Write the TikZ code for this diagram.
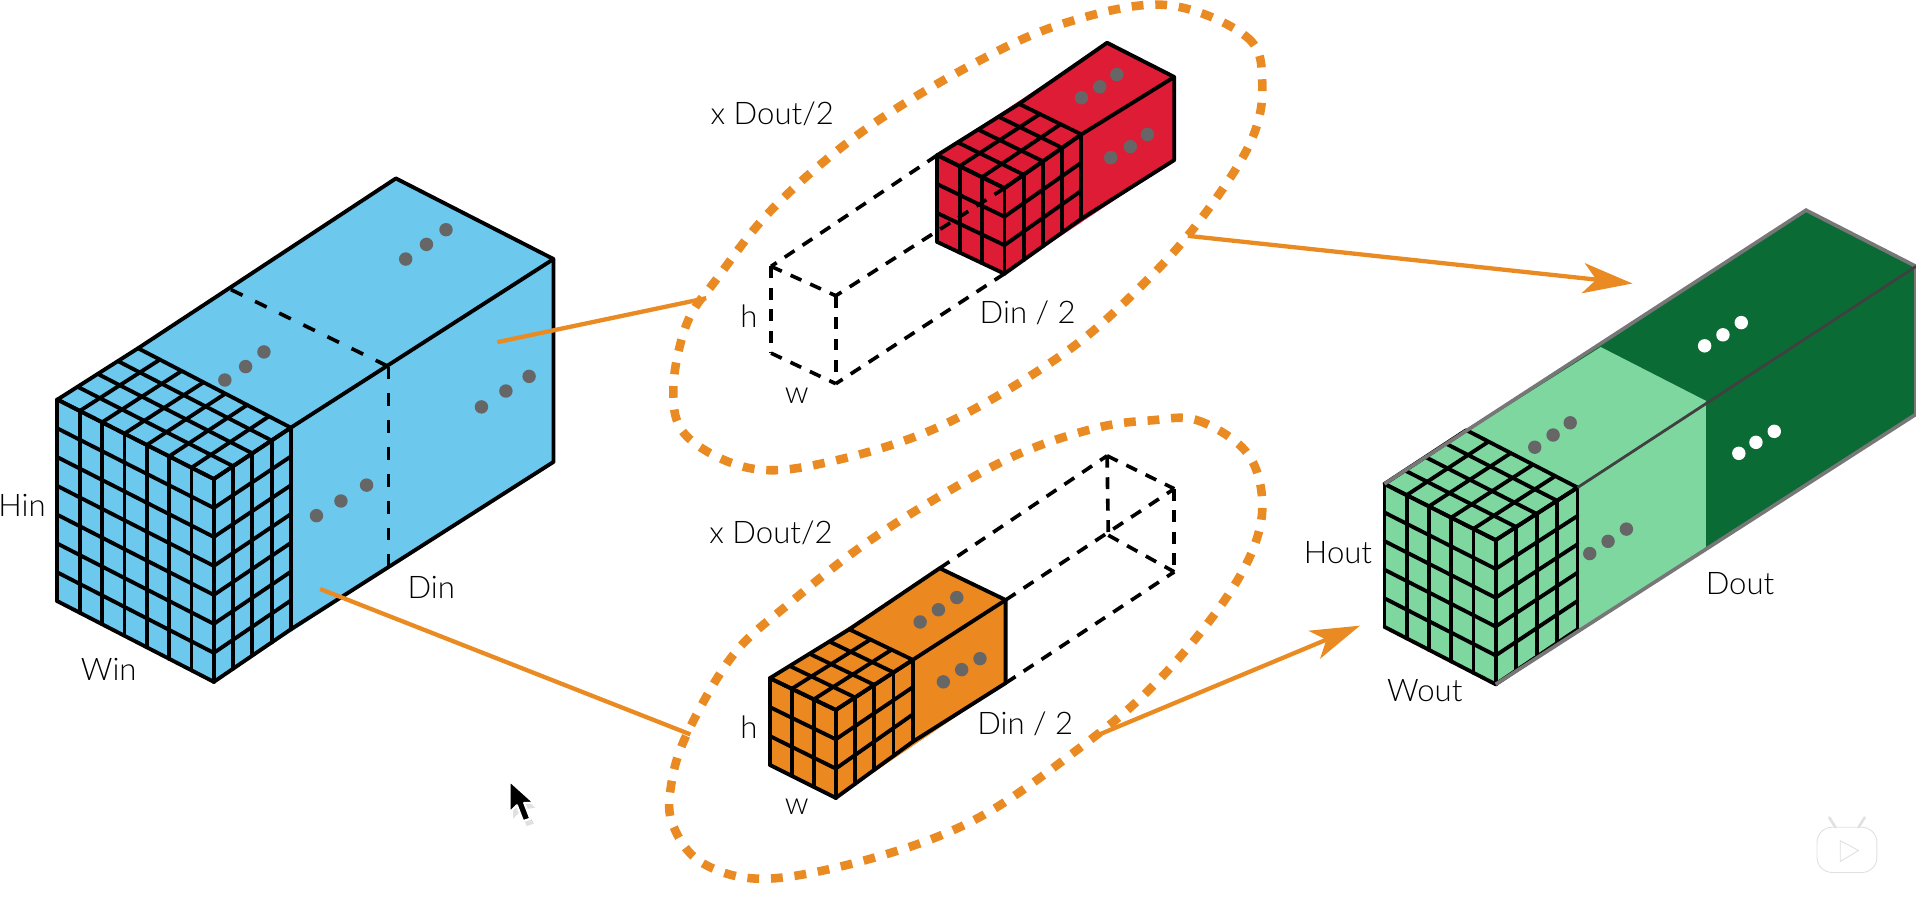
\documentclass[tikz,border=0pt]{standalone}
\usepackage{fontspec}
\setmainfont{Lato Light}
\usetikzlibrary{arrows.meta, calc, positioning}

\definecolor{tensorblue}{HTML}{6DC8EE}
\definecolor{tensorred}{HTML}{DE1C36}
\definecolor{tensororange}{HTML}{EC8820}
\definecolor{greenlight}{HTML}{7FD7A0}
\definecolor{greendark}{HTML}{0B6B35}
\definecolor{pipgray}{HTML}{666666}
\definecolor{edgegray}{HTML}{777777}
\definecolor{flow}{HTML}{E98B22}

% quadrilateral face split in cells: corners p q r s, cells along pq, cells along ps
\newcommand{\cellgrid}[6]{
\foreach \i in {0,...,#5} \draw[gridline] ($(#1)!\i/#5!(#2)$) -- ($(#4)!\i/#5!(#3)$);
\foreach \i in {0,...,#6} \draw[gridline] ($(#1)!\i/#6!(#4)$) -- ($(#2)!\i/#6!(#3)$);
}

\begin{document}
\begin{tikzpicture}[
x=0.02cm, y=-0.02cm,
gridline/.style={draw=black, line width=1.8pt, line cap=round},
outline/.style={draw=black, line width=1.8pt, line join=round},
hidden/.style={draw=black, line width=1.7pt, dash pattern=on 5.5pt off 4.5pt},
blob/.style={draw=flow, line width=4pt, dash pattern=on 5.5pt off 5.5pt},
feed/.style={draw=flow, line width=2pt},
arrow/.style={feed, -{Stealth[length=23pt, width=14pt, inset=6pt]}},
label/.style={font=\fontsize{14.5}{16}\selectfont, inner sep=0pt},
pip/.style={fill=pipgray},
whitepip/.style={fill=white}
]

\useasboundingbox (0,0) rectangle (1568,745.5);

% input tensor
\coordinate (ba) at (47,327);
\coordinate (bb) at (175,392);
\coordinate (bc) at (238,350);
\coordinate (bd) at (113,285);
\coordinate (bA) at (47,492);
\coordinate (bB) at (175,558);
\coordinate (bC) at (238,515);
\coordinate (bfar) at (453,212);
\coordinate (btop) at (324,146);
\coordinate (bFar) at (453,378);
\coordinate (bcutT) at (189,237);
\coordinate (bcutM) at (318,300);
\coordinate (bcutB) at (318,465);

\fill[tensorblue] (ba) -- (btop) -- (bfar) -- (bFar) -- (bB) -- (bA) -- cycle;
\cellgrid{ba}{bb}{bB}{bA}{7}{7}
\cellgrid{bb}{bc}{bC}{bB}{4}{7}
\cellgrid{ba}{bb}{bc}{bd}{7}{4}
\draw[outline] (bd) -- (btop) -- (bfar) -- (bFar) -- (bC);
\draw[outline] (bc) -- (bfar);
\draw[hidden, dash pattern=on 6pt off 6.5pt] (bcutT) -- (bcutM);
\draw[hidden, dash pattern=on 6pt off 6.5pt] (bcutM) -- (bcutB);
\foreach \x/\y in {184/311, 201/300, 216/288, 332/212, 349/200, 365/188, 259/422, 279/410, 300/397, 394/333, 414/320, 433/308}
\fill[pip] (\x,\y) circle (5.5);

% upper block
\coordinate (ra) at (767,127);
\coordinate (rb) at (822,154);
\coordinate (rc) at (885,110);
\coordinate (rd) at (834,85);
\coordinate (rA) at (767,198);
\coordinate (rB) at (822,224);
\coordinate (rC) at (885,179);
\coordinate (rtop) at (906,35);
\coordinate (rfar) at (961,63);
\coordinate (rFar) at (961,131);
\coordinate (ug1) at (631,218);
\coordinate (ug2) at (684,242);
\coordinate (ug3) at (684,314);
\coordinate (ug4) at (631,289);

\fill[tensorred] (ra) -- (rtop) -- (rfar) -- (rFar) -- (rB) -- (rA) -- cycle;
\cellgrid{ra}{rb}{rB}{rA}{3}{3}
\cellgrid{rb}{rc}{rC}{rB}{4}{3}
\cellgrid{ra}{rb}{rc}{rd}{3}{4}
\draw[outline] (rd) -- (rtop) -- (rfar) -- (rFar) -- (rC);
\draw[outline] (rc) -- (rfar);
\draw[hidden] (ra) -- (ug1);
\draw[hidden] (rb) -- (ug2);
\draw[hidden] (rB) -- (ug3);
\draw[hidden] (ug1) -- (ug2);
\draw[hidden] (ug2) -- (ug3);
\draw[hidden] (ug1) -- (ug4);
\draw[hidden] (ug4) -- (ug3);
\foreach \x/\y in {885/80, 900/71, 914/61, 909/129, 925/120, 939/110}
\fill[pip] (\x,\y) circle (5.5);

% lower block
\coordinate (oa) at (630,555);
\coordinate (ob) at (684,581);
\coordinate (oc) at (747,540);
\coordinate (od) at (695,515);
\coordinate (oA) at (630,626);
\coordinate (oB) at (684,653);
\coordinate (oC) at (747,607);
\coordinate (otop) at (769,465);
\coordinate (ofar) at (823,491);
\coordinate (oFar) at (823,559);
\coordinate (lg1) at (906,373);
\coordinate (lg2) at (961,400);
\coordinate (lg3) at (961,468);
\coordinate (lg4) at (907,438);

\fill[tensororange] (oa) -- (otop) -- (ofar) -- (oFar) -- (oB) -- (oA) -- cycle;
\cellgrid{oa}{ob}{oB}{oA}{3}{3}
\cellgrid{ob}{oc}{oC}{oB}{4}{3}
\cellgrid{oa}{ob}{oc}{od}{3}{4}
\draw[outline] (od) -- (otop) -- (ofar) -- (oFar) -- (oC);
\draw[outline] (oc) -- (ofar);
\draw[hidden] (otop) -- (lg1);
\draw[hidden] (ofar) -- (lg2);
\draw[hidden] (oFar) -- (lg3);
\draw[hidden] (lg1) -- (lg2);
\draw[hidden] (lg2) -- (lg3);
\draw[hidden] (lg1) -- (lg4);
\draw[hidden] (lg4) -- (lg3);
\foreach \x/\y in {753/509, 768/499, 783/489, 772/558, 787/548, 802/539}
\fill[pip] (\x,\y) circle (5.5);

% output tensor
\coordinate (ga) at (1133,396);
\coordinate (gb) at (1224,442);
\coordinate (gc) at (1291,399);
\coordinate (gd) at (1200,352);
\coordinate (gA) at (1133,513);
\coordinate (gB) at (1224,560);
\coordinate (gC) at (1291,515);
\coordinate (gtop) at (1478,172);
\coordinate (gfar) at (1568,218);
\coordinate (gFar) at (1568,339);
\coordinate (gsplitT) at (1310,284);
\coordinate (gsplitM) at (1396,328);
\coordinate (gsplitB) at (1396,448);

\fill[greendark] (ga) -- (gtop) -- (gfar) -- (gFar) -- (gB) -- (gA) -- cycle;
\fill[greenlight] (ga) -- (gsplitT) -- (gsplitM) -- (gsplitB) -- (gB) -- (gA) -- cycle;
\cellgrid{ga}{gb}{gB}{gA}{5}{5}
\cellgrid{gb}{gc}{gC}{gB}{4}{5}
\cellgrid{ga}{gb}{gc}{gd}{5}{4}
\draw[draw=edgegray, line width=1.7pt] (ga) -- (gtop) -- (gfar) -- (gFar) -- (gB);
\draw[draw=black!75, line width=1.3pt] (gc) -- (gfar);
\foreach \x/\y in {1256/366, 1271/356, 1285/346, 1301/453, 1316/443, 1331/433}
\fill[pip] (\x,\y) circle (5.5);
\foreach \x/\y in {1395/283, 1410/274, 1425/264, 1423/371, 1437/362, 1452/353}
\fill[whitepip] (\x,\y) circle (5.5);

% dotted groups
\draw[blob] plot[smooth cycle, tension=0.6] coordinates {(953,4) (1020,30) (1033,68) (1024,115) (986,175) (939,229) (871,289) (769,349) (674,379) (613,383) (562,357) (551,319) (562,265) (586,229) (634,169) (708,106) (797,52) (871,19)};
\draw[blob] plot[smooth cycle, tension=0.6] coordinates {(942,344) (980,344) (1020,370) (1033,410) (1024,453) (993,504) (942,563) (885,611) (803,668) (722,700) (630,719) (576,707) (551,676) (549,644) (562,601) (600,536) (647,493) (708,445) (776,402) (837,370) (898,350)};

% connectors
\coordinate (upS) at (407,280);
\coordinate (upE) at (578,244);
\coordinate (lowS) at (262,482);
\coordinate (lowE) at (565,601);
\coordinate (outS1) at (972,193);
\coordinate (outE1) at (1336,232);
\coordinate (outS2) at (895,603);
\coordinate (outE2) at (1113,512);

\draw[feed] (upS) -- (upE);
\draw[feed] (lowS) -- (lowE);
\draw[arrow] (outS1) -- (outE1);
\draw[arrow] (outS2) -- (outE2);

% labels
\node[label] (hin) at (18,414) {Hin};
\node[label] (win) at (89,548) {Win};
\node[label] (din) at (353,481) {Din};
\node[label] (repU) at (632,93) {x Dout/2};
\node[label] (hU) at (613,259) {h};
\node[label] (wU) at (652,324) {w};
\node[label] (dU) at (841,256) {Din / 2};
\node[label] (repL) at (631,436) {x Dout/2};
\node[label] (hL) at (613,595) {h};
\node[label] (wL) at (652,660) {w};
\node[label] (dL) at (839,592) {Din / 2};
\node[label] (hout) at (1095,452) {Hout};
\node[label] (wout) at (1166,565) {Wout};
\node[label] (dout) at (1424,478) {Dout};

% pointer
\fill[black!12] (420,644) -- (420,670) -- (426,664) -- (431,676) -- (437,674) -- (431,662) -- (438,661) -- cycle;
\fill[black, draw=white, line width=1pt, line join=round] (417,639) -- (417,665) -- (423,659) -- (428,672) -- (434,670) -- (429,657) -- (437,657) -- cycle;

% badge
\draw[draw=black!12, fill=white, rounded corners=7] (1487,677) rectangle (1536,714);
\draw[draw=black!12, fill=white, line join=round] (1506,688) -- (1506,705) -- (1521,696) -- cycle;
\draw[draw=black!12, line width=1.2pt, line cap=round] (1497,669) -- (1502,677);
\draw[draw=black!12, line width=1.2pt, line cap=round] (1526,669) -- (1521,677);

\end{tikzpicture}
\end{document}
